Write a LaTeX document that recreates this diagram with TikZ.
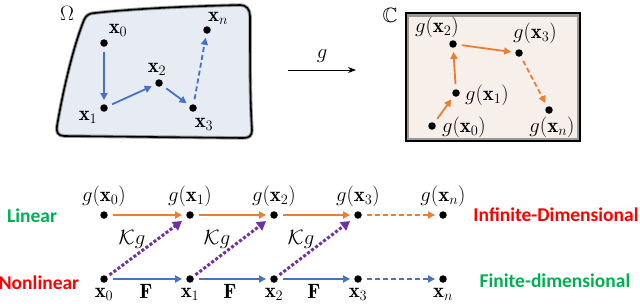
\documentclass[tikz,border=0pt]{standalone}
\usepackage{amsmath,amssymb}
\usepackage{fontspec}
\newfontfamily\carl{Carlito}
\usetikzlibrary{arrows.meta}
\definecolor{myorange}{HTML}{ED7D31}
\definecolor{myblue}{HTML}{4472C4}
\definecolor{mypurple}{HTML}{7030A0}
\definecolor{mygreen}{HTML}{00B050}
\definecolor{myred}{HTML}{FF0000}
\definecolor{omfill}{HTML}{E6EBF4}
\definecolor{cfill}{HTML}{F7EFEA}
\begin{document}
\begin{tikzpicture}[x=1pt,y=-1pt,
  dot/.style={circle,fill=black,inner sep=0pt,minimum size=7.5pt},
  lbl/.style={inner sep=0pt,font=\fontsize{20.74}{24}\selectfont},
  word/.style={inner sep=0pt,font=\carl\bfseries\fontsize{19.5}{22}\selectfont},
  arr/.style={line width=1.8pt,-{Triangle[length=7pt,width=7pt]},shorten <=5pt,shorten >=4pt},
  dsh/.style={dash pattern=on 5pt off 3pt},
  parr/.style={line width=3pt,dotted,mypurple,-{Triangle[length=9pt,width=10pt]},shorten <=3pt,shorten >=6pt},
]
\useasboundingbox (0,0) rectangle (640,303);
% Omega region
\path[fill=omfill,draw=black!40,line width=3.5pt]
  (95,13) .. controls (140,8) and (200,6) .. (240,5)
  .. controls (246,5) and (250,9) .. (250,16)
  .. controls (250,60) and (250,100) .. (252,130)
  .. controls (252,136) and (249,138) .. (243,138)
  -- (64,136) .. controls (58,136) and (56,132) .. (57,126)
  .. controls (64,85) and (74,45) .. (84,20)
  .. controls (86,15) and (90,13) .. (95,13) -- cycle;
\draw[line width=1.6pt]
  (95,13) .. controls (140,8) and (200,6) .. (240,5)
  .. controls (246,5) and (250,9) .. (250,16)
  .. controls (250,60) and (250,100) .. (252,130)
  .. controls (252,136) and (249,138) .. (243,138)
  -- (64,136) .. controls (58,136) and (56,132) .. (57,126)
  .. controls (64,85) and (74,45) .. (84,20)
  .. controls (86,15) and (90,13) .. (95,13) -- cycle;
\node[lbl] (om) at (67,13) {$\Omega$};
\node[dot] (a0) at (104,43) {};
\node[dot] (a1) at (104,108) {};
\node[dot] (a2) at (159,83) {};
\node[dot] (a3) at (193,108) {};
\node[dot] (an) at (207,30) {};
\node[lbl] (la0) at (118,30) {$\mathbf{x}_0$};
\node[lbl] (la1) at (88,117) {$\mathbf{x}_1$};
\node[lbl] (la2) at (157,69) {$\mathbf{x}_2$};
\node[lbl] (la3) at (204,124) {$\mathbf{x}_3$};
\node[lbl] (lan) at (218,18) {$\mathbf{x}_n$};
\draw[arr,myblue] (a0) -- (a1);
\draw[arr,myblue] (a1) -- (a2);
\draw[arr,myblue] (a2) -- (a3);
\draw[arr,myblue,dsh] (a3) -- (an);
% map g
\coordinate (gs) at (288,70);
\coordinate (ge) at (356,70);
\draw[line width=1pt,-{Stealth[length=8pt,width=6pt]}] (gs) -- (ge);
\node[lbl] (gl) at (322,56) {$g$};
% C box
\node[lbl] (cl) at (390,15) {$\mathbb{C}$};
\draw[fill=cfill,draw=black!40,line width=3.5pt] (407,15) rectangle (579,140);
\draw[line width=1.4pt] (406,13) rectangle (580,141);
\node[dot] (b0) at (432,126) {};
\node[dot] (b1) at (456,93) {};
\node[dot] (b2) at (453,44) {};
\node[dot] (b3) at (519,53) {};
\node[dot] (bn) at (549,110) {};
\node[lbl] (lb0) at (464,127) {$g(\mathbf{x}_0)$};
\node[lbl] (lb1) at (487,95) {$g(\mathbf{x}_1)$};
\node[lbl] (lb2) at (437,27) {$g(\mathbf{x}_2)$};
\node[lbl] (lb3) at (535,33) {$g(\mathbf{x}_3)$};
\node[lbl] (lbn) at (552,127) {$g(\mathbf{x}_n)$};
\draw[arr,myorange] (b0) -- (b1);
\draw[arr,myorange] (b1) -- (b2);
\draw[arr,myorange] (b2) -- (b3);
\draw[arr,myorange,dsh] (b3) -- (bn);
% bottom rows
\foreach \i/\x in {0/104,1/190,2/274,3/358,n/443}{
  \node[dot] (t\i) at (\x,215) {};
  \node[dot] (s\i) at (\x,279) {};
  \node[lbl] (lt\i) at (\x,196) {$g(\mathbf{x}_\i)$};
  \node[lbl] (ls\i) at (\x,294) {$\mathbf{x}_\i$};
}
\draw[arr,myorange] (t0) -- (t1);
\draw[arr,myorange] (t1) -- (t2);
\draw[arr,myorange] (t2) -- (t3);
\draw[arr,myorange,dsh] (t3) -- (tn);
\draw[arr,myblue] (s0) -- (s1);
\draw[arr,myblue] (s1) -- (s2);
\draw[arr,myblue] (s2) -- (s3);
\draw[arr,myblue,dsh] (s3) -- (sn);
\draw[parr] (s0) -- (t1);
\draw[parr] (s1) -- (t2);
\draw[parr] (s2) -- (t3);
\node[lbl] (k0) at (132,239) {$\mathcal{K}g$};
\node[lbl] (k1) at (217,239) {$\mathcal{K}g$};
\node[lbl] (k2) at (301,239) {$\mathcal{K}g$};
\node[lbl] (f0) at (146,291) {$\mathbf{F}$};
\node[lbl] (f1) at (230,291) {$\mathbf{F}$};
\node[lbl] (f2) at (314,291) {$\mathbf{F}$};
\node[word,text=mygreen] (lin) at (32,216) {Linear};
\node[word,text=myred] (nlin) at (39,283) {Nonlinear};
\node[word,text=myred] (inf) at (556,215) {Infinite-Dimensional};
\node[word,text=mygreen] (fin) at (555,281) {Finite-dimensional};
\end{tikzpicture}
\end{document}
